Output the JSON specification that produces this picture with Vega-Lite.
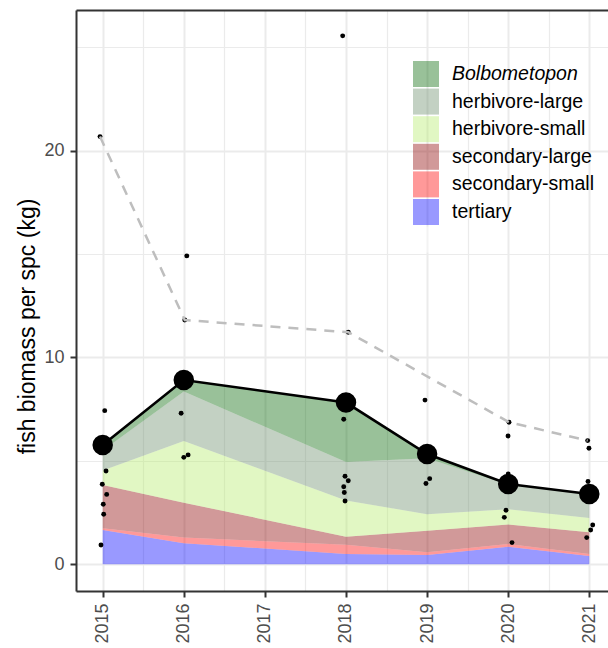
{
  "$schema": "https://vega.github.io/schema/vega-lite/v6.json",
  "width": 532,
  "height": 581,
  "autosize": {"type": "none"},
  "padding": {"left": 76, "top": 10, "right": 0, "bottom": 57},
  "config": {"view": {"stroke": null}, "font": "Liberation Sans"},
  "datasets": {
    "groups": [
      {"year": 2015, "group": "tertiary", "biomass": 1.66, "ord": 1},
      {"year": 2016, "group": "tertiary", "biomass": 1.02, "ord": 1},
      {"year": 2018, "group": "tertiary", "biomass": 0.50, "ord": 1},
      {"year": 2019, "group": "tertiary", "biomass": 0.45, "ord": 1},
      {"year": 2020, "group": "tertiary", "biomass": 0.85, "ord": 1},
      {"year": 2021, "group": "tertiary", "biomass": 0.40, "ord": 1},
      {"year": 2015, "group": "secondary-small", "biomass": 0.08, "ord": 2},
      {"year": 2016, "group": "secondary-small", "biomass": 0.27, "ord": 2},
      {"year": 2018, "group": "secondary-small", "biomass": 0.44, "ord": 2},
      {"year": 2019, "group": "secondary-small", "biomass": 0.13, "ord": 2},
      {"year": 2020, "group": "secondary-small", "biomass": 0.13, "ord": 2},
      {"year": 2021, "group": "secondary-small", "biomass": 0.10, "ord": 2},
      {"year": 2015, "group": "secondary-large", "biomass": 2.09, "ord": 3},
      {"year": 2016, "group": "secondary-large", "biomass": 1.69, "ord": 3},
      {"year": 2018, "group": "secondary-large", "biomass": 0.39, "ord": 3},
      {"year": 2019, "group": "secondary-large", "biomass": 1.04, "ord": 3},
      {"year": 2020, "group": "secondary-large", "biomass": 0.95, "ord": 3},
      {"year": 2021, "group": "secondary-large", "biomass": 1.05, "ord": 3},
      {"year": 2015, "group": "herbivore-small", "biomass": 0.70, "ord": 4},
      {"year": 2016, "group": "herbivore-small", "biomass": 2.98, "ord": 4},
      {"year": 2018, "group": "herbivore-small", "biomass": 1.76, "ord": 4},
      {"year": 2019, "group": "herbivore-small", "biomass": 0.80, "ord": 4},
      {"year": 2020, "group": "herbivore-small", "biomass": 0.73, "ord": 4},
      {"year": 2021, "group": "herbivore-small", "biomass": 0.69, "ord": 4},
      {"year": 2015, "group": "herbivore-large", "biomass": 0.97, "ord": 5},
      {"year": 2016, "group": "herbivore-large", "biomass": 2.39, "ord": 5},
      {"year": 2018, "group": "herbivore-large", "biomass": 1.86, "ord": 5},
      {"year": 2019, "group": "herbivore-large", "biomass": 2.71, "ord": 5},
      {"year": 2020, "group": "herbivore-large", "biomass": 1.19, "ord": 5},
      {"year": 2021, "group": "herbivore-large", "biomass": 1.14, "ord": 5},
      {"year": 2015, "group": "Bolbometopon", "biomass": 0.27, "ord": 6},
      {"year": 2016, "group": "Bolbometopon", "biomass": 0.56, "ord": 6},
      {"year": 2018, "group": "Bolbometopon", "biomass": 2.87, "ord": 6},
      {"year": 2019, "group": "Bolbometopon", "biomass": 0.20, "ord": 6},
      {"year": 2020, "group": "Bolbometopon", "biomass": 0.03, "ord": 6},
      {"year": 2021, "group": "Bolbometopon", "biomass": 0.02, "ord": 6}
    ],
    "points": [
      {"x": 2014.967, "value": 20.68}, {"x": 2015.025, "value": 7.43}, {"x": 2015.041, "value": 4.51},
      {"x": 2014.995, "value": 3.87}, {"x": 2015.049, "value": 3.38}, {"x": 2015.007, "value": 2.90},
      {"x": 2015.012, "value": 2.42}, {"x": 2014.979, "value": 0.93},
      {"x": 2016.037, "value": 14.91}, {"x": 2016.012, "value": 11.81}, {"x": 2015.967, "value": 7.30},
      {"x": 2016.0, "value": 5.17}, {"x": 2016.053, "value": 5.29},
      {"x": 2017.959, "value": 25.55}, {"x": 2018.028, "value": 11.22}, {"x": 2017.972, "value": 7.01},
      {"x": 2017.988, "value": 4.26}, {"x": 2018.028, "value": 4.04}, {"x": 2017.972, "value": 3.75},
      {"x": 2017.979, "value": 3.47}, {"x": 2017.988, "value": 3.06},
      {"x": 2018.974, "value": 7.94}, {"x": 2019.032, "value": 4.14}, {"x": 2018.986, "value": 3.91},
      {"x": 2020.01, "value": 6.87}, {"x": 2019.998, "value": 6.20}, {"x": 2020.0, "value": 4.37},
      {"x": 2019.973, "value": 2.61}, {"x": 2019.952, "value": 2.27}, {"x": 2020.047, "value": 1.05},
      {"x": 2020.98, "value": 5.98}, {"x": 2020.996, "value": 5.61}, {"x": 2020.984, "value": 4.0},
      {"x": 2021.042, "value": 1.90}, {"x": 2021.017, "value": 1.66}, {"x": 2020.968, "value": 1.29}
    ],
    "upper": [
      {"x": 2014.967, "value": 20.68}, {"x": 2016.012, "value": 11.81}, {"x": 2018.028, "value": 11.22},
      {"x": 2020.01, "value": 6.87}, {"x": 2020.98, "value": 5.98}
    ],
    "means": [
      {"x": 2015, "value": 5.77}, {"x": 2016, "value": 8.91}, {"x": 2018, "value": 7.82},
      {"x": 2019, "value": 5.33}, {"x": 2020, "value": 3.88}, {"x": 2021, "value": 3.40}
    ]
  },
  "layer": [
    {
      "data": {"name": "groups"},
      "mark": {"type": "area", "opacity": 0.4},
      "encoding": {
        "x": {
          "field": "year", "type": "quantitative",
          "scale": {"domain": [2014.6708, 2021.2306], "nice": false, "zero": false},
          "axis": {
            "orient": "bottom", "values": [2015, 2016, 2017, 2018, 2019, 2020, 2021], "format": "d",
            "title": null, "grid": true, "gridColor": "#ebebeb", "gridWidth": 2,
            "domain": true, "domainColor": "#333333", "domainWidth": 2,
            "ticks": true, "tickColor": "#333333", "tickWidth": 2, "tickSize": 6,
            "labelAngle": -90, "labelAlign": "right", "labelBaseline": "middle",
            "labelFontSize": 18, "labelColor": "#4d4d4d", "labelPadding": 6,
            "labelFlush": false, "labelOverlap": false
          }
        },
        "y": {
          "field": "biomass", "type": "quantitative", "stack": "zero",
          "scale": {"domain": [-1.291, 26.80], "nice": false, "zero": false},
          "axis": {
            "orient": "left", "values": [0, 10, 20],
            "title": "fish biomass per spc (kg)", "titleFontSize": 23, "titleFontWeight": "normal",
            "titleColor": "black", "titleAngle": -90, "titleBaseline": "alphabetic", "titleAlign": "center",
            "titleX": -42, "titleY": 316,
            "grid": true, "gridColor": "#ebebeb", "gridWidth": 2,
            "domain": true, "domainColor": "#333333", "domainWidth": 2,
            "ticks": true, "tickColor": "#333333", "tickWidth": 2, "tickSize": 6,
            "labelFontSize": 18, "labelColor": "#4d4d4d", "labelPadding": 6
          }
        },
        "color": {
          "field": "group", "type": "nominal",
          "scale": {
            "domain": ["Bolbometopon", "herbivore-large", "herbivore-small", "secondary-large", "secondary-small", "tertiary", " "],
            "range": ["#006400", "#698b69", "#b4eb69", "#8b0000", "#ff0000", "#0000ff", "#ffffff"]
          },
          "legend": {
            "orient": "none", "legendX": 337, "legendY": 51, "title": null, "padding": 0,
            "symbolType": "square", "symbolSize": 676, "symbolStrokeWidth": 0,
            "rowPadding": 1.6, "labelOffset": 13, "labelFontSize": 19.5, "labelColor": "black",
            "labelLimit": 400,
            "labelFontStyle": {"expr": "datum.label === 'Bolbometopon' ? 'italic' : 'normal'"},
            "encode": {
              "symbols": {
                "update": {
                  "fill": {"signal": "({'Bolbometopon':'#99c199','herbivore-large':'#c3d1c3','herbivore-small':'#e1f7c3','secondary-large':'#d19999','secondary-small':'#ff9999','tertiary':'#9999ff'})[datum.value] || '#ffffff'"},
                  "opacity": {"value": 1},
                  "fillOpacity": {"value": 1},
                  "strokeWidth": {"value": 0}
                }
              }
            }
          }
        },
        "order": {"field": "ord", "type": "quantitative"}
      }
    },
    {
      "data": {"name": "points"},
      "mark": {"type": "circle", "size": 24, "color": "black", "opacity": 1},
      "encoding": {
        "x": {
          "field": "x", "type": "quantitative",
          "axis": {
            "orient": "top", "values": [2015.5, 2016.5, 2017.5, 2018.5, 2019.5, 2020.5],
            "title": null, "labels": false, "ticks": false,
            "grid": true, "gridColor": "#ebebeb", "gridWidth": 1.2,
            "domain": true, "domainColor": "#333333", "domainWidth": 2
          }
        },
        "y": {
          "field": "value", "type": "quantitative",
          "axis": {
            "orient": "right", "values": [5, 15, 25],
            "title": null, "labels": false, "ticks": false, "domain": false,
            "grid": true, "gridColor": "#ebebeb", "gridWidth": 1.2
          }
        }
      }
    },
    {
      "data": {"name": "upper"},
      "mark": {"type": "line", "color": "#bebebe", "strokeWidth": 2.5, "strokeDash": [10, 8]},
      "encoding": {
        "x": {"field": "x", "type": "quantitative", "axis": null},
        "y": {"field": "value", "type": "quantitative", "axis": null}
      }
    },
    {
      "data": {"name": "means"},
      "mark": {"type": "line", "color": "black", "strokeWidth": 2.6},
      "encoding": {
        "x": {"field": "x", "type": "quantitative", "axis": null},
        "y": {"field": "value", "type": "quantitative", "axis": null}
      }
    },
    {
      "data": {"name": "means"},
      "mark": {"type": "circle", "size": 420, "color": "black", "opacity": 1},
      "encoding": {
        "x": {"field": "x", "type": "quantitative", "axis": null},
        "y": {"field": "value", "type": "quantitative", "axis": null}
      }
    }
  ],
  "resolve": {"axis": {"x": "independent", "y": "independent"}}
}
